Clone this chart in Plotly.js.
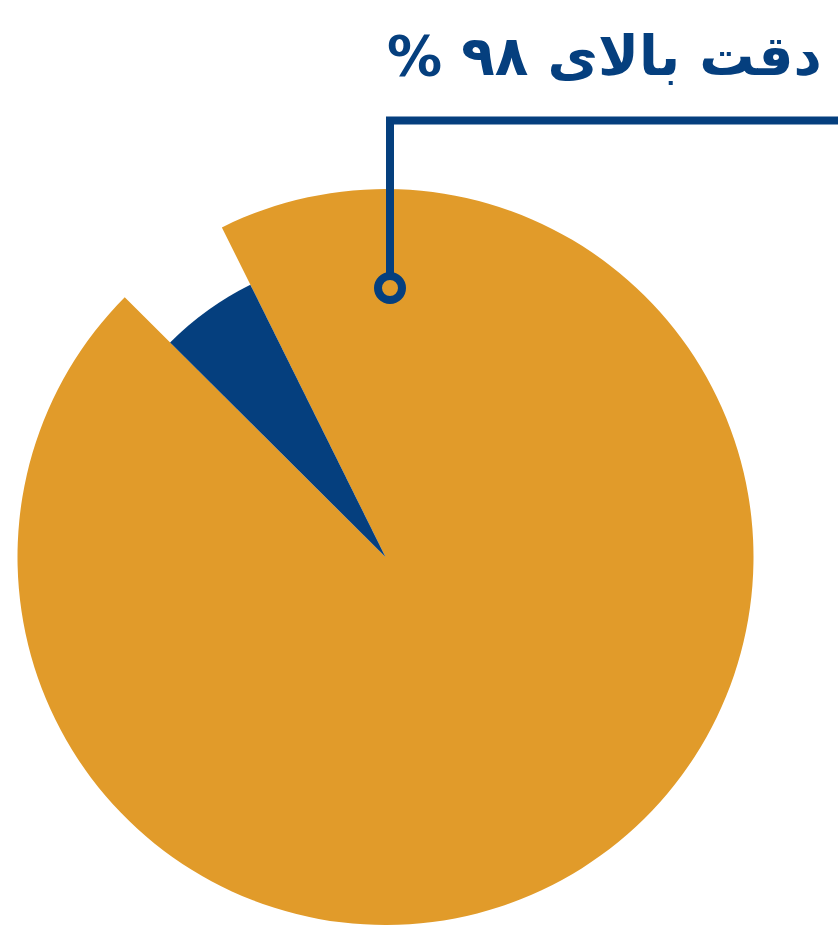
<!DOCTYPE html>
<html>
<head>
<meta charset="utf-8">
<script src="https://cdn.plot.ly/plotly-3.0.1.min.js"></script>
<style>html,body{margin:0;padding:0;background:#fff;}#chart{width:838px;height:936px;}</style>
</head>
<body>
<div id="chart"></div>
<script>
// Data
const categories = ['دقت', 'خطا'];
const shares = [94.8, 5.2];
const titleText = 'دقت بالای ۹۸ %';

const ORANGE = '#E19B2A';
const NAVY = '#053F7E';
const CLEAR = 'rgba(0,0,0,0)';

const W = 838, H = 936;
const cx = 385.5, cy = 557;   // pie centre (px)
const R1 = 368, R2 = 304;     // outer radius, inner (navy) radius
const startAngle = 333.6;     // first slice start, clockwise from 12 o'clock

function dom(r) {
  return {
    x: [(cx - r) / W, (cx + r) / W],
    y: [(H - cy - r) / H, (H - cy + r) / H]
  };
}

const common = {
  type: 'pie',
  labels: categories,
  values: shares,
  sort: false,
  direction: 'clockwise',
  rotation: startAngle,
  textinfo: 'none',
  hoverinfo: 'label+percent',
  showlegend: false
};

const traces = [
  Object.assign({}, common, {
    domain: dom(R1),
    marker: {colors: [ORANGE, CLEAR], line: {width: 0}}
  }),
  Object.assign({}, common, {
    domain: dom(R2),
    marker: {colors: [CLEAR, NAVY], line: {width: 0}}
  })
];

const px = x => x / W;
const py = y => 1 - y / H;
const lx = 390, ly = 120.5, dotY = 288, dotR = 12;

const layout = {
  width: W, height: H,
  margin: {l: 0, r: 0, t: 0, b: 0},
  paper_bgcolor: '#ffffff',
  plot_bgcolor: '#ffffff',
  shapes: [
    {
      type: 'path', xref: 'paper', yref: 'paper',
      path: `M ${px(lx)} ${py(dotY - dotR - 1)} L ${px(lx)} ${py(ly)} L ${px(W + 10)} ${py(ly)}`,
      line: {color: NAVY, width: 8}
    },
    {
      type: 'circle', xref: 'paper', yref: 'paper',
      xsizemode: 'pixel', ysizemode: 'pixel',
      xanchor: px(lx), yanchor: py(dotY),
      x0: -dotR, x1: dotR, y0: -dotR, y1: dotR,
      line: {color: NAVY, width: 8},
      fillcolor: CLEAR
    }
  ],
  annotations: [
    {
      text: '<b>' + titleText + '\u200F</b>',
      xref: 'paper', yref: 'paper',
      x: px(824), y: py(56),
      xanchor: 'right', yanchor: 'middle',
      showarrow: false,
      font: {family: 'DejaVu Sans, sans-serif', size: 55, color: NAVY}
    }
  ]
};

Plotly.newPlot('chart', traces, layout, {displayModeBar: false, staticPlot: true});
</script>
</body>
</html>
